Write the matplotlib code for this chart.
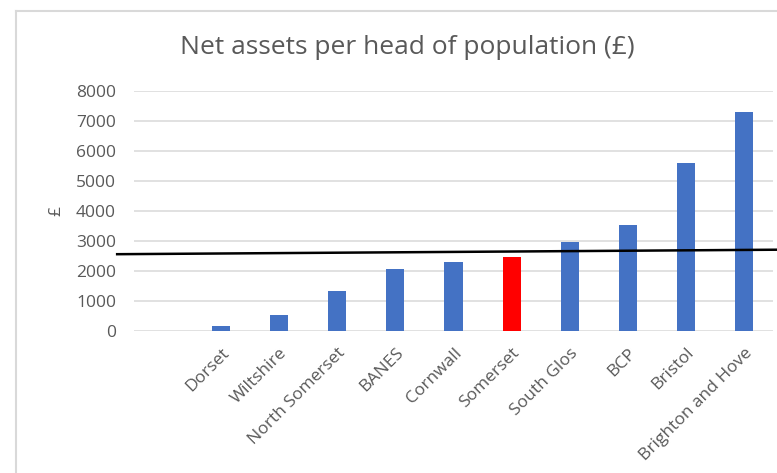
import matplotlib
matplotlib.use("Agg")
import matplotlib.pyplot as plt
from matplotlib.lines import Line2D
import numpy as np

plt.rcParams['font.family'] = ['Open Sans', 'DejaVu Sans']

# Net assets per head (GBP) by authority
authorities = ["Dorset", "Wiltshire", "North Somerset", "BANES", "Cornwall",
               "Somerset", "South Glos", "BCP", "Bristol", "Brighton and Hove"]
net_assets = [170, 530, 1320, 2070, 2290, 2460, 2970, 3520, 5610, 7290]
highlight = "Somerset"

# Reference line (start and end levels)
ref_line_x = [-0.79, 10.6]
ref_line_y = [2560, 2710]

y_ticks = [0, 1000, 2000, 3000, 4000, 5000, 6000, 7000, 8000]

text_color = "#595959"
grid_color = "#D9D9D9"
blue = "#4472C4"
red = "#FF0000"

fig = plt.figure(figsize=(7.77, 4.73), dpi=100)
ax = fig.add_axes([134 / 777, 1 - 331 / 473, (773 - 134) / 777, (331 - 91) / 473])

positions = np.arange(1, len(authorities) + 1)
colors = [red if a == highlight else blue for a in authorities]
ax.bar(positions, net_assets, width=0.31, color=colors, zorder=3)

ax.set_xlim(-0.5, len(authorities) + 0.5)
ax.set_ylim(0, 8000)
ax.set_yticks(y_ticks)
ax.set_yticklabels([str(t) for t in y_ticks], fontsize=12.5, color=text_color)
ax.yaxis.grid(True, color=grid_color, linewidth=1.1, zorder=0)
ax.tick_params(axis='y', length=0, pad=13)
ax.tick_params(axis='x', length=0, pad=10)

ax.set_xticks(positions)
ax.set_xticklabels(authorities, rotation=45, ha='right', rotation_mode='anchor',
                   fontsize=12.5, color=text_color)

for s in ax.spines.values():
    s.set_visible(False)

ax.set_ylabel("£", fontsize=12.5, color=text_color, labelpad=8)

ax.plot(ref_line_x, ref_line_y, color="black", linewidth=1.8, clip_on=False, zorder=4)

fig.text(407 / 777, 1 - 47 / 473, "Net assets per head of population (£)",
         ha='center', va='center', fontsize=19, color=text_color)

# Chart area border (top and left edges)
fig.add_artist(Line2D([16 / 777, 16 / 777], [0, 1 - 11 / 473], color=grid_color,
                      linewidth=1.5, transform=fig.transFigure))
fig.add_artist(Line2D([16 / 777, 1], [1 - 11 / 473, 1 - 11 / 473], color=grid_color,
                      linewidth=1.5, transform=fig.transFigure))

fig.savefig("out.png", dpi=100)
